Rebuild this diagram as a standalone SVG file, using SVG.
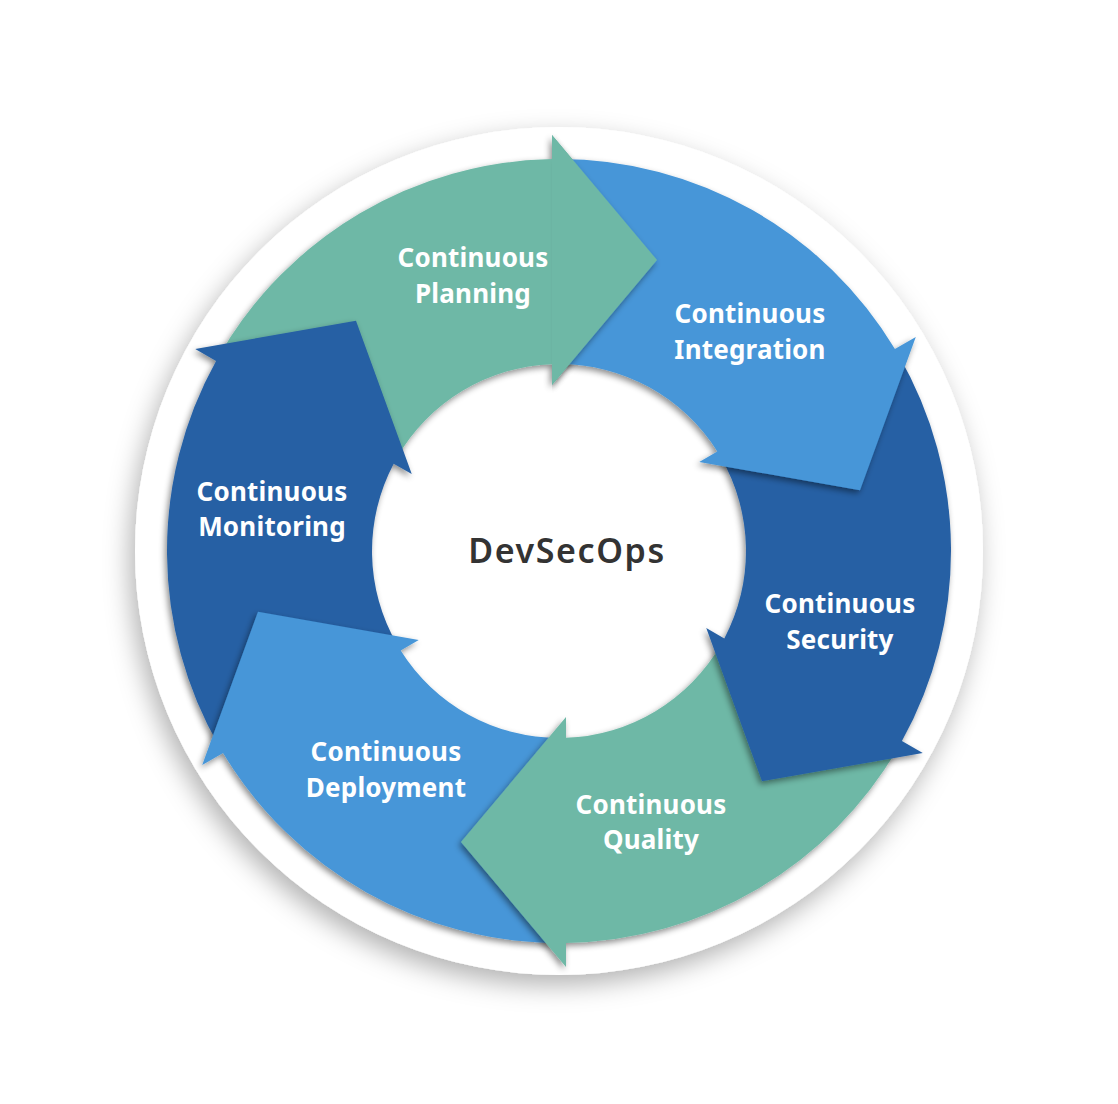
<svg xmlns="http://www.w3.org/2000/svg" xmlns:xlink="http://www.w3.org/1999/xlink" width="1118" height="1104" viewBox="0 0 1118 1104">
<defs>
<filter id="plateShadow" x="-20%" y="-20%" width="140%" height="140%">
<feDropShadow dx="-5" dy="10" stdDeviation="13" flood-color="#000" flood-opacity="0.3"/>
</filter>
<filter id="arrowShadow" x="-15%" y="-15%" width="130%" height="130%">
<feDropShadow dx="-2" dy="3" stdDeviation="3" flood-color="#000" flood-opacity="0.45"/>
</filter>
<clipPath id="planHeadClip"><polygon points="552,90 700,90 700,430 552,430"/></clipPath>
<path id="planningShape" d="M219.52,355 A392,392 0 0 1 552,159.06 L552,135 L657,260 L552,385 L552,364.13 A187,187 0 0 0 397.06,457.5 Z"/>
</defs>
<style>
.green{fill:#6EB8A6}
.light{fill:#4696D8}
.dark{fill:#2660A4}
.arrow{filter:url(#arrowShadow)}
.label{font-family:"Noto Sans","Liberation Sans",sans-serif;font-weight:700;font-size:26px;fill:#ffffff;text-anchor:middle;letter-spacing:0.2px}
.title{font-family:"Noto Sans","Liberation Sans",sans-serif;font-weight:600;font-size:34px;fill:#333333;text-anchor:middle;letter-spacing:1.6px}
</style>
<rect width="1118" height="1104" fill="#ffffff"/>
<circle id="plate" cx="559" cy="551" r="424" fill="#ffffff" filter="url(#plateShadow)"/>
<g id="planning">
<use xlink:href="#planningShape" href="#planningShape" class="arrow green"/>
<text class="label"><tspan x="473" y="267">Continuous</tspan><tspan x="473" y="303">Planning</tspan></text>
</g>
<g id="monitoring">
<path class="arrow dark" d="M219.52,747 A392,392 0 0 1 216.07,361.09 L195.23,349.06 L355.99,320.63 L411.74,474.06 L393.67,463.63 A187,187 0 0 0 397.06,644.5 Z"/>
<text class="label"><tspan x="272" y="501">Continuous</tspan><tspan x="272" y="536">Monitoring</tspan></text>
</g>
<g id="deployment">
<path class="arrow light" d="M559,943 A392,392 0 0 1 223.07,753.03 L202.23,765.06 L257.99,611.63 L418.74,640.06 L400.67,650.5 A187,187 0 0 0 559,738 Z"/>
<text class="label"><tspan x="386" y="761">Continuous</tspan><tspan x="386" y="797">Deployment</tspan></text>
</g>
<g id="quality">
<path class="arrow green" d="M898.48,747 A392,392 0 0 1 566,942.94 L566,967 L461,842 L566,717 L566,737.87 A187,187 0 0 0 720.94,644.5 Z"/>
<text class="label"><tspan x="651" y="814">Continuous</tspan><tspan x="651" y="849">Quality</tspan></text>
</g>
<g id="security">
<path class="arrow dark" d="M898.48,355 A392,392 0 0 1 901.93,740.91 L922.77,752.94 L762.01,781.37 L706.26,627.94 L724.33,638.38 A187,187 0 0 0 720.94,457.5 Z"/>
<text class="label"><tspan x="840" y="613">Continuous</tspan><tspan x="840" y="649">Security</tspan></text>
</g>
<g id="integration">
<path class="arrow light" d="M559,159 A392,392 0 0 1 894.93,348.97 L915.77,336.94 L860.01,490.37 L699.26,461.94 L717.33,451.5 A187,187 0 0 0 559,364 Z"/>
<text class="label"><tspan x="750" y="323">Continuous</tspan><tspan x="750" y="359">Integration</tspan></text>
</g>
<g id="planning-head" clip-path="url(#planHeadClip)">
<use xlink:href="#planningShape" href="#planningShape" class="arrow green"/>
</g>
<g id="center">
<text class="title" x="567" y="563">DevSecOps</text>
</g>
</svg>
